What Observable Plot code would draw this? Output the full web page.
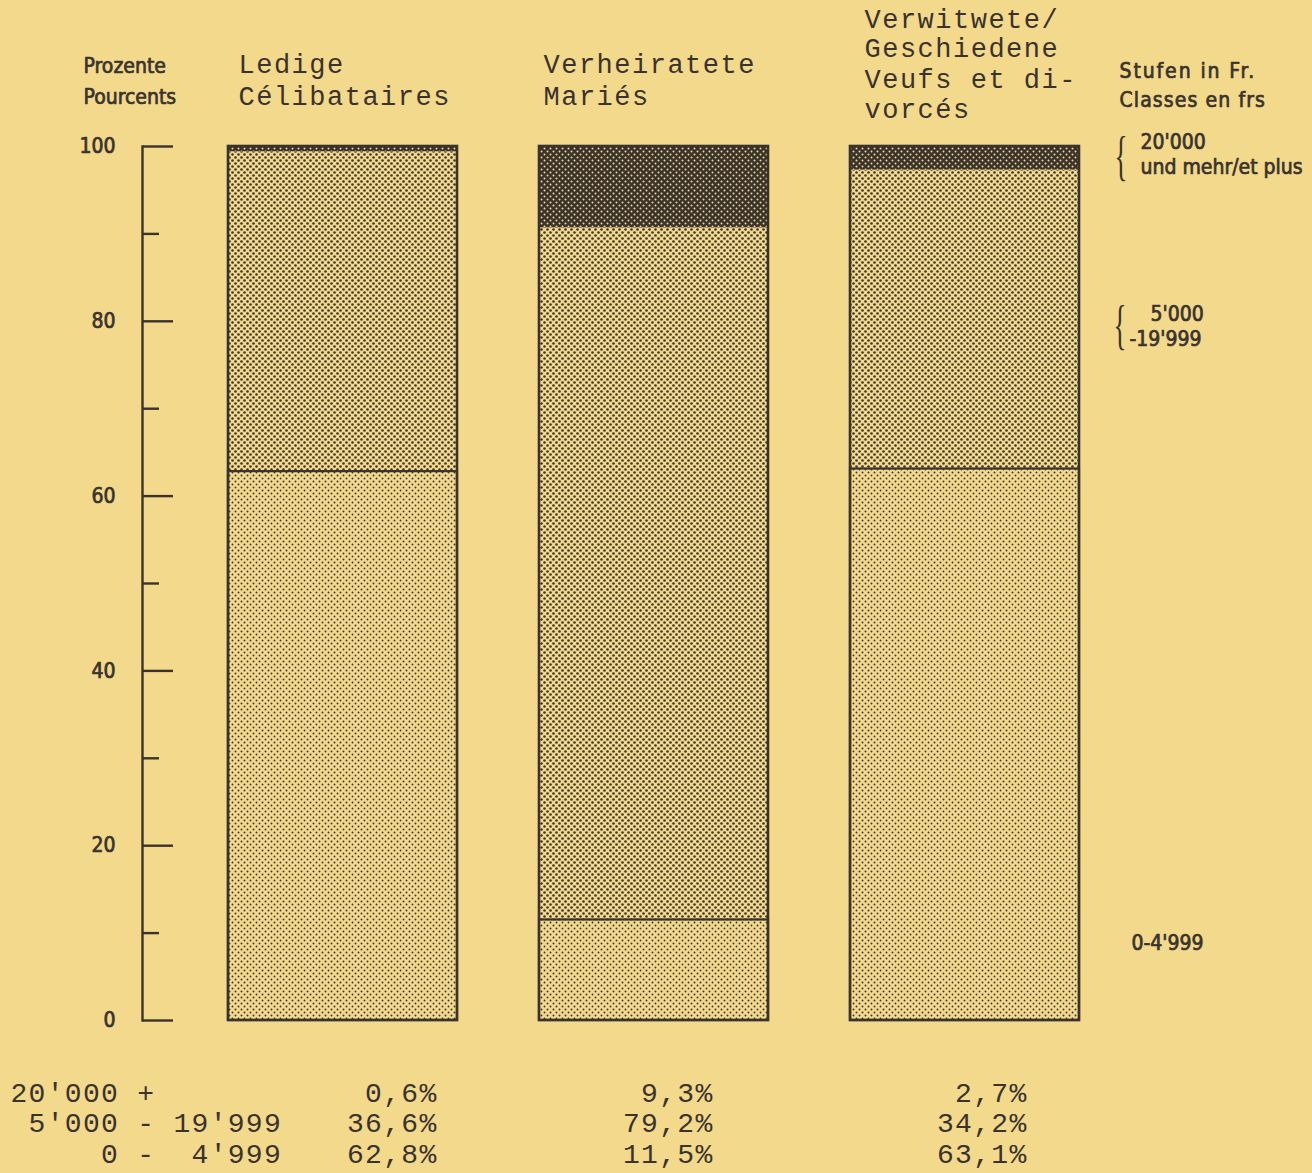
<!DOCTYPE html>
<html>
<head>
<meta charset="utf-8">
<script src="https://cdn.jsdelivr.net/npm/d3@7"></script>
<script src="https://cdn.jsdelivr.net/npm/@observablehq/plot@0.6"></script>
<style>
  html, body { margin: 0; padding: 0; background: #f3d98c; }
</style>
</head>
<body>
<div id="chart"></div>
<script>
// ---- data ----
const statuses = ["Ledige", "Verheiratete", "Verwitwete/Geschiedene"];
const titlesDe = ["Ledige", "Verheiratete", "Verwitwete/", "Geschiedene"];
const titlesFr = ["Célibataires", "Mariés", "Veufs et di-", "vorcés"];
const bands = ["0 - 4'999", "5'000 - 19'999", "20'000 +"]; // bottom to top
const low = [62.8, 11.5, 63.1];   // 0 - 4'999
const mid = [36.6, 79.2, 34.2];   // 5'000 - 19'999
const high = [0.6, 9.3, 2.7];     // 20'000 +
const tableLabels = ["20'000 +", " 5'000 - 19'999", "     0 -  4'999"];
const yMajor = [0, 20, 40, 60, 80, 100];
const yMinor = [10, 30, 50, 70, 90];

// ---- derived table ----
const series = [low, mid, high];
const rows = [];
statuses.forEach((s, i) => bands.forEach((b, j) => rows.push({status: s, band: b, value: series[j][i]})));
const totals = statuses.map((s, i) => ({status: s, total: low[i] + mid[i] + high[i]}));
const bottoms = statuses.map((s, i) => ({status: s, value: low[i]}));

const ink = "#3a332d";
const bg = "#f3d98c";
const W = 1312, H = 1173;
const ML = 228, MR = 233, MT = 146, MB = 153;
const mono = "'Liberation Mono', 'DejaVu Sans Mono', monospace";
const cond = "'DejaVu Sans Condensed', 'DejaVu Sans', sans-serif";

function txt(str, px, py, o = {}) {
  return Plot.text([str], {
    text: d => d, frameAnchor: "top-left", dx: px - ML, dy: py - MT,
    lineAnchor: "bottom", textAnchor: "start", fill: ink, ...o
  });
}
const tw = {fontFamily: mono, fontSize: 27};   // typewriter titles
const sc = {fontFamily: cond, fontSize: 21, stroke: ink, strokeWidth: 0.7};
const tb = {fontFamily: mono, fontSize: 28};   // typewriter table
const br = {fontFamily: "'Liberation Serif', serif", fontSize: 54};
const fmt = v => v.toFixed(1).replace(".", ",") + "%";
const pctEnds = [437, 713, 1027];
const rowBase = [1101, 1131, 1162];

const marks = [
  Plot.barY(rows, Plot.stackY({x: "status", y: "value", fill: "band"})),
  Plot.barY(bottoms, {x: "status", y: "value", fill: "none", stroke: ink, strokeWidth: 2.2}),
  Plot.barY(totals, {x: "status", y: "total", fill: "none", stroke: ink, strokeWidth: 2.6}),
  Plot.frame({anchor: "left", dx: -86, stroke: ink, strokeWidth: 2.4}),
  Plot.axisY({anchor: "right", frameAnchor: "left", dx: -86, ticks: yMajor, tickSize: 30,
    tickFormat: () => "", label: null, stroke: ink, strokeWidth: 2.4}),
  Plot.axisY({anchor: "right", frameAnchor: "left", dx: -86, ticks: yMinor, tickSize: 16,
    tickFormat: () => "", label: null, stroke: ink, strokeWidth: 2.4}),
  Plot.text(yMajor, {y: d => d, text: d => String(d), frameAnchor: "left", dx: -113,
    textAnchor: "end", fill: ink, ...sc}),
  // left header
  txt("Prozente", 83, 72, sc),
  txt("Pourcents", 83, 103, sc),
  // column titles
  txt(titlesDe[0], 238, 72, tw),
  txt(titlesFr[0], 238, 104, tw),
  txt(titlesDe[1], 543, 72, tw),
  txt(titlesFr[1], 543, 104, tw),
  txt(titlesDe[2], 864, 27, tw),
  txt(titlesDe[3], 864, 56, tw),
  txt(titlesFr[2], 864, 87, tw),
  txt(titlesFr[3], 864, 117, tw),
  // right legend
  txt("Stufen in Fr.", 1119, 77, sc),
  txt("Classes en frs", 1119, 106, sc),
  txt("{", 1114, 173, br),
  txt("20'000", 1140, 148, sc),
  txt("und mehr/et plus", 1140, 173, sc),
  txt("{", 1113, 342, br),
  txt("5'000", 1150, 320, sc),
  txt("-19'999", 1129, 345, sc),
  txt("0-4'999", 1131, 949, sc),
  // bottom table
  ...tableLabels.map((l, k) => txt(l, 10, rowBase[k], tb)),
];
statuses.forEach((s, i) => {
  [high[i], mid[i], low[i]].forEach((v, k) => {
    marks.push(txt(fmt(v), pctEnds[i], rowBase[k], {...tb, textAnchor: "end"}));
  });
});

const svg = Plot.plot({
  width: W, height: H,
  marginLeft: ML, marginRight: MR, marginTop: MT, marginBottom: MB,
  style: {background: bg, color: ink, overflow: "visible"},
  x: {domain: statuses, paddingInner: 0.2637, paddingOuter: 0, axis: null},
  y: {domain: [0, 100]},
  color: {domain: bands, range: ["url(#p0)", "url(#p1)", "url(#p2)"]},
  marks
});

// halftone dot patterns (screen tints of the original print)
const defs = d3.select(svg).insert("defs", ":first-child");
function pattern(id, base, dot, r) {
  const p = defs.append("pattern").attr("id", id).attr("patternUnits", "userSpaceOnUse")
    .attr("width", 6).attr("height", 6);
  p.append("rect").attr("width", 6).attr("height", 6).attr("fill", base);
  p.append("circle").attr("cx", 1.5).attr("cy", 1.5).attr("r", r).attr("fill", dot);
  p.append("circle").attr("cx", 4.5).attr("cy", 4.5).attr("r", r).attr("fill", dot);
}
pattern("p0", bg, ink, 0.95);
pattern("p1", bg, ink, 1.3);
pattern("p2", ink, bg, 1.0);

// typewriter pitch: ~17.7px per character for titles, 18px for the table
d3.select(svg).selectAll("g").each(function() {
  const ff = this.getAttribute("font-family") || "";
  if (ff.includes("Liberation Mono")) {
    const fs = +this.getAttribute("font-size");
    const pitch = fs === 27 ? 17.7 : 18.1;
    this.setAttribute("letter-spacing", (pitch - 0.6 * fs).toFixed(2));
    this.style.whiteSpace = "pre";
    this.setAttribute("xml:space", "preserve");
  }
});
// narrow hand-drawn braces, and the wider lettering of the legend heading
d3.select(svg).selectAll("text").each(function() {
  const t = this.textContent;
  if (t === "{") {
    const tr = this.getAttribute("transform") || "";
    this.setAttribute("transform", tr + " scale(0.5,1)");
  } else if (t === "Stufen in Fr.") {
    this.setAttribute("letter-spacing", "1.9");
  } else if (t === "Classes en frs") {
    this.setAttribute("letter-spacing", "1.1");
  }
});

document.getElementById("chart").append(svg);
</script>
</body>
</html>
